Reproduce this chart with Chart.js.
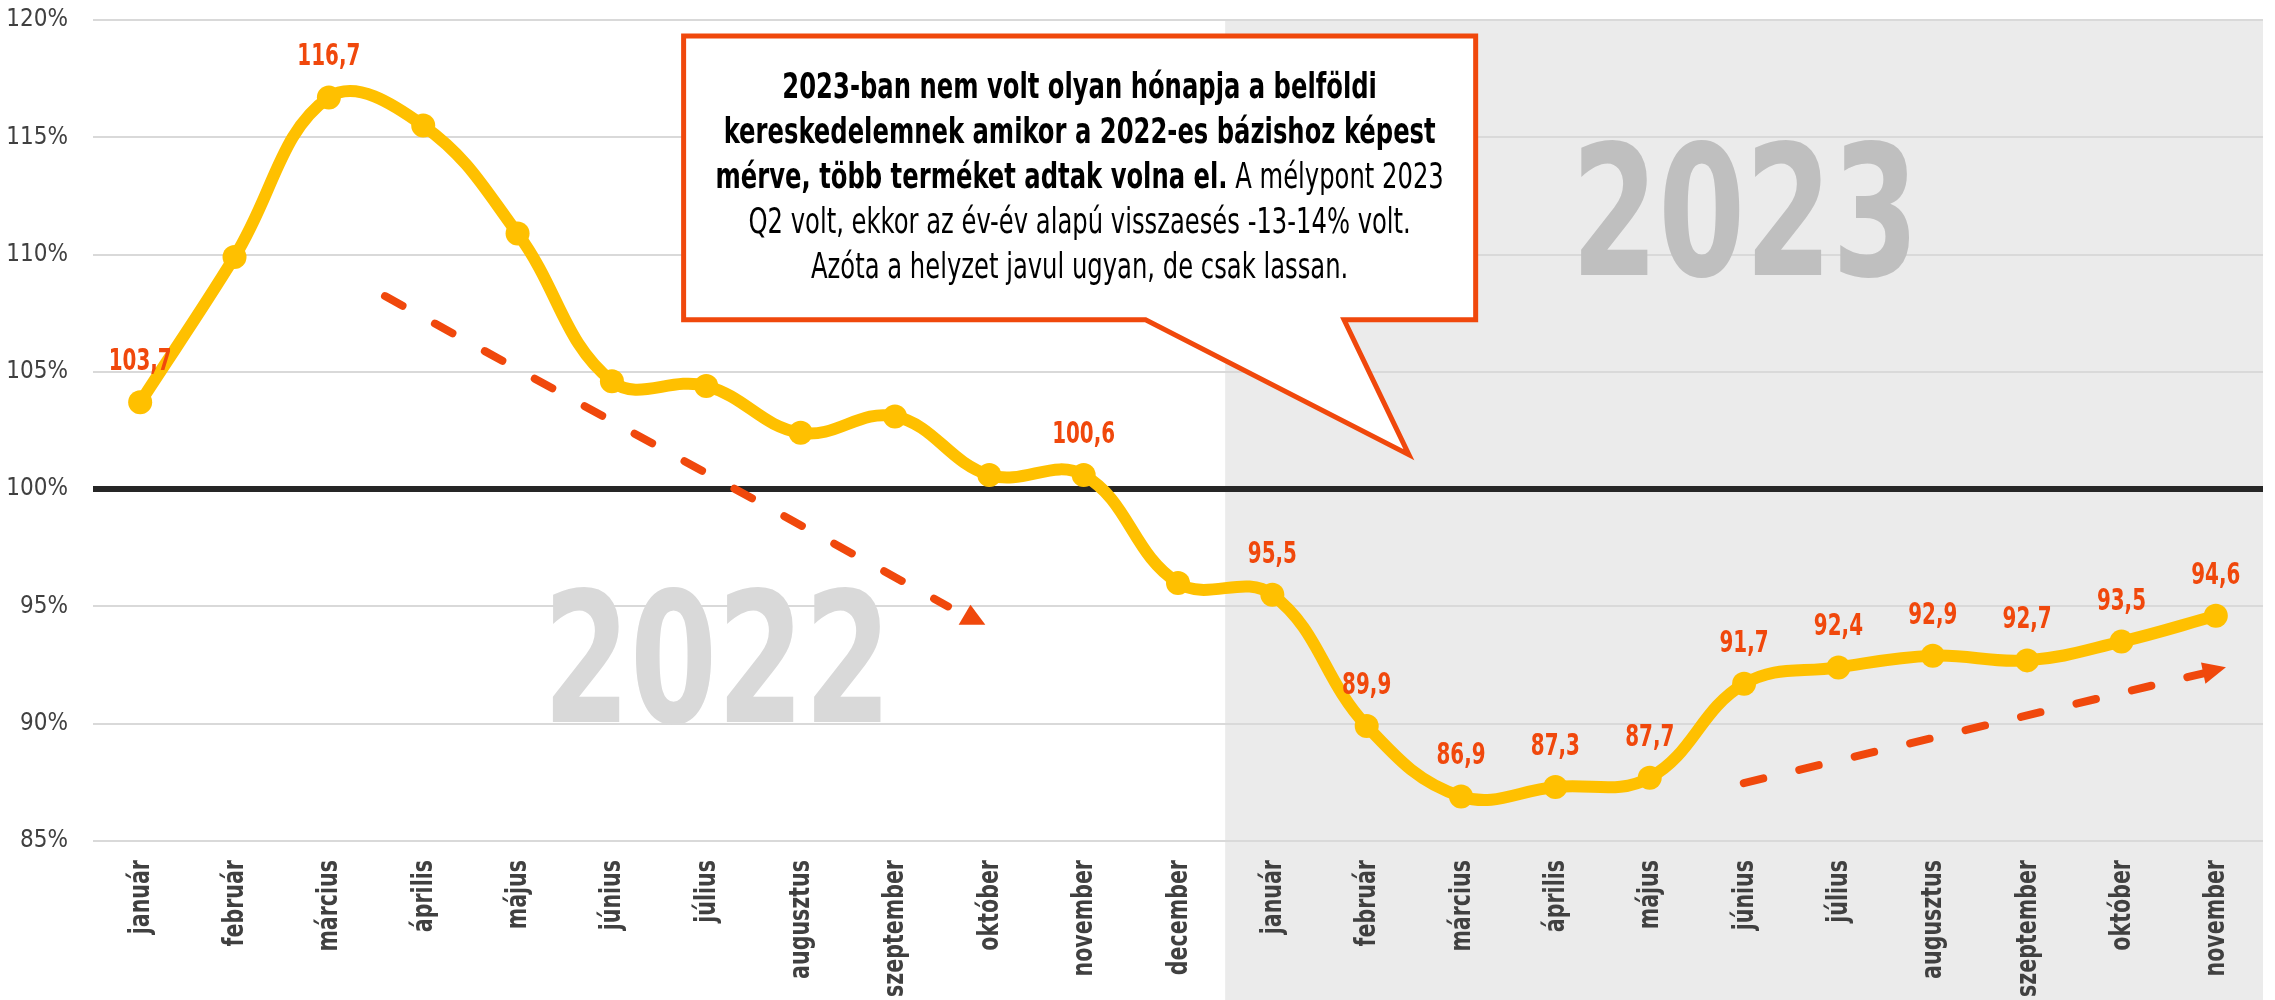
<!DOCTYPE html>
<html lang="hu">
<head>
<meta charset="utf-8">
<title>Belföldi kereskedelem 2022-2023</title>
<script src="https://cdn.jsdelivr.net/npm/chart.js@4"></script>
<style>
  html, body { margin: 0; background: #fff; }
  canvas { display: block; }
</style>
</head>
<body>
<canvas id="salesChart" width="2275" height="1000"></canvas>
<script>
const months2022 = ["január", "február", "március", "április", "május", "június", "július", "augusztus", "szeptember", "október", "november", "december"];
const months2023 = ["január", "február", "március", "április", "május", "június", "július", "augusztus", "szeptember", "október", "november"];

const values2022 = [103.7, 109.9, 116.7, 115.5, 110.9, 104.6, 104.4, 102.4, 103.1, 100.6, 100.6, 96.0];
const values2023 = [95.5, 89.9, 86.9, 87.3, 87.7, 91.7, 92.4, 92.9, 92.7, 93.5, 94.6];

// which points get a value label
const labeledPoints = [0, 2, 10, 12, 13, 14, 15, 16, 17, 18, 19, 20, 21, 22];

const yTicks = [85, 90, 95, 100, 105, 110, 115, 120];

const calloutLines = [
  [["2023-ban nem volt olyan hónapja a belföldi", true]],
  [["kereskedelemnek amikor a 2022-es bázishoz képest", true]],
  [["mérve, több terméket adtak volna el.", true], [" A mélypont 2023", false]],
  [["Q2 volt, ekkor az év-év alapú visszaesés -13-14% volt.", false]],
  [["Azóta a helyzet javul ugyan, de csak lassan.", false]]
];

const labels = [...months2022, ...months2023];
const values = [...values2022, ...values2023];

const FONT = "'Liberation Sans Narrow', 'DejaVu Sans Condensed', 'Arial Narrow', sans-serif";
const RED = "#F0480C";
const LINE = "#FFC000";
const AXIS_TEXT = "#404040";

// annotation positions, in category index / percent units
const ANN = {
  shadeFrom: 11.5,
  year2022: { x: 6.11, y: 92.9, w: 328, h: 138, color: "#D9D9D9" },
  year2023: { x: 17.01, y: 111.97, w: 328, h: 138, color: "#BFBFBF" },
  box: { left: 5.76, right: 14.155, top: 119.32, bottom: 107.22, tailA: 10.656, tailB: 12.76, tipX: 13.447, tipY: 101.47 },
  arrowDown: { from: [2.595, 108.23], to: [8.562, 95.0], head: [[8.80, 95.07], [8.675, 94.22], [8.958, 94.22]] },
  arrowUp: { from: [16.997, 87.47], to: [21.87, 92.15], head: [[22.107, 92.41], [21.843, 92.61], [21.89, 91.70]] }
};

function fmt(v) {
  return v.toFixed(1).replace(".", ",");
}

// the original uses a condensed face; squeeze the text horizontally to match
function fillNarrow(ctx, text, x, y, sx) {
  ctx.save();
  ctx.translate(x, y);
  ctx.scale(sx, 1);
  ctx.fillText(text, 0, 0);
  ctx.restore();
}

function drawFitText(ctx, text, cx, cy, w, h, color) {
  ctx.save();
  ctx.font = `bold 200px ${FONT}`;
  const m = ctx.measureText(text);
  const tw = m.actualBoundingBoxLeft + m.actualBoundingBoxRight;
  const th = m.actualBoundingBoxAscent + m.actualBoundingBoxDescent;
  ctx.translate(cx, cy);
  ctx.scale(w / tw, h / th);
  ctx.fillStyle = color;
  ctx.textAlign = "left";
  ctx.textBaseline = "alphabetic";
  ctx.fillText(text, -tw / 2 + m.actualBoundingBoxLeft, th / 2 - m.actualBoundingBoxDescent);
  ctx.restore();
}

function drawArrow(chart, a) {
  const { ctx, scales: { x, y } } = chart;
  ctx.save();
  ctx.strokeStyle = RED;
  ctx.fillStyle = RED;
  ctx.lineWidth = 8;
  ctx.lineCap = "round";
  ctx.setLineDash([20, 37]);
  ctx.beginPath();
  ctx.moveTo(x.getPixelForValue(a.from[0]), y.getPixelForValue(a.from[1]));
  ctx.lineTo(x.getPixelForValue(a.to[0]), y.getPixelForValue(a.to[1]));
  ctx.stroke();
  ctx.setLineDash([]);
  ctx.beginPath();
  a.head.forEach((p, i) => {
    const px = x.getPixelForValue(p[0]);
    const py = y.getPixelForValue(p[1]);
    if (i === 0) ctx.moveTo(px, py); else ctx.lineTo(px, py);
  });
  ctx.closePath();
  ctx.fill();
  ctx.restore();
}

function drawCallout(chart) {
  const { ctx, scales: { x, y } } = chart;
  const b = ANN.box;
  const L = x.getPixelForValue(b.left), R = x.getPixelForValue(b.right);
  const T = y.getPixelForValue(b.top), B = y.getPixelForValue(b.bottom);

  ctx.save();
  ctx.beginPath();
  ctx.moveTo(L, T);
  ctx.lineTo(R, T);
  ctx.lineTo(R, B);
  ctx.lineTo(x.getPixelForValue(b.tailB), B);
  ctx.lineTo(x.getPixelForValue(b.tipX), y.getPixelForValue(b.tipY));
  ctx.lineTo(x.getPixelForValue(b.tailA), B);
  ctx.lineTo(L, B);
  ctx.closePath();
  ctx.fillStyle = "#fff";
  ctx.fill();
  ctx.lineWidth = 5;
  ctx.lineJoin = "miter";
  ctx.strokeStyle = RED;
  ctx.stroke();

  const size = 35;
  ctx.font = `bold ${size}px ${FONT}`;
  const sx = Math.min(1, 712 / ctx.measureText(calloutLines[1][0][0]).width);
  const cx = (L + R) / 2;
  const midY = (T + B) / 2 + 1;
  ctx.fillStyle = "#000";
  ctx.textBaseline = "middle";
  ctx.textAlign = "left";
  calloutLines.forEach((line, i) => {
    const parts = line.map(([txt, bold]) => {
      ctx.font = `${bold ? "bold " : ""}${size}px ${FONT}`;
      return { txt, bold, w: ctx.measureText(txt).width * sx };
    });
    const total = parts.reduce((s, p) => s + p.w, 0);
    let px = cx - total / 2;
    const py = midY + (i - 2) * 45;
    parts.forEach(p => {
      ctx.font = `${p.bold ? "bold " : ""}${size}px ${FONT}`;
      fillNarrow(ctx, p.txt, px, py, sx);
      px += p.w;
    });
  });
  ctx.restore();
}

function drawMonthLabels(chart) {
  const { ctx, chartArea, scales: { x } } = chart;
  ctx.save();
  ctx.font = `bold 29px ${FONT}`;
  const sx = Math.min(1, 137 / ctx.measureText("szeptember").width);
  ctx.fillStyle = AXIS_TEXT;
  ctx.textAlign = "right";
  ctx.textBaseline = "middle";
  labels.forEach((lab, i) => {
    ctx.save();
    ctx.translate(x.getPixelForValue(i) + 1, chartArea.bottom + 19);
    ctx.rotate(-Math.PI / 2);
    ctx.scale(sx, 1);
    ctx.fillText(lab, 0, 0);
    ctx.restore();
  });
  ctx.restore();
}

const decorPlugin = {
  id: "decor",
  beforeDraw(chart) {
    const { ctx, chartArea, scales: { x } } = chart;
    ctx.save();
    ctx.fillStyle = "#fff";
    ctx.fillRect(0, 0, chart.width, chart.height);
    const left = x.getPixelForValue(ANN.shadeFrom);
    ctx.fillStyle = "#EBEBEB";
    ctx.fillRect(left, chartArea.top, chartArea.right - left, chart.height - chartArea.top);
    ctx.restore();
  },
  beforeDatasetsDraw(chart) {
    const { ctx, scales: { x, y } } = chart;
    [["2022", ANN.year2022], ["2023", ANN.year2023]].forEach(([t, a]) => {
      drawFitText(ctx, t, x.getPixelForValue(a.x), y.getPixelForValue(a.y), a.w, a.h, a.color);
    });
    drawMonthLabels(chart);
  },
  afterDatasetsDraw(chart) {
    const { ctx } = chart;
    const meta = chart.getDatasetMeta(0);

    drawArrow(chart, ANN.arrowDown);
    drawArrow(chart, ANN.arrowUp);

    ctx.save();
    ctx.font = `bold 31px ${FONT}`;
    const sx = Math.min(1, 63 / ctx.measureText("116,7").width);
    ctx.fillStyle = RED;
    ctx.textAlign = "center";
    ctx.textBaseline = "alphabetic";
    labeledPoints.forEach(i => {
      const pt = meta.data[i];
      fillNarrow(ctx, fmt(values[i]), pt.x, pt.y - 32, sx);
    });
    ctx.restore();

    drawCallout(chart);
  }
};

function initChart() {
  const ctx = document.getElementById("salesChart").getContext("2d");

  new Chart(ctx, {
    type: "line",
    data: {
      labels: labels,
      datasets: [
        {
          label: "Index",
          data: values,
          borderColor: LINE,
          backgroundColor: LINE,
          borderWidth: 12,
          pointRadius: 12,
          pointBackgroundColor: LINE,
          pointBorderWidth: 0,
          tension: 0.4
        }
      ]
    },
    options: {
      responsive: false,
      animation: false,
      events: [],
      layout: {
        padding: { top: 20, right: 7, left: 0, bottom: 0 }
      },
      plugins: {
        legend: { display: false },
        tooltip: { enabled: false }
      },
      scales: {
        x: {
          offset: true,
          grid: { display: false },
          border: { display: false },
          ticks: { display: false },
          afterFit(scale) { scale.height = 159; }
        },
        y: {
          min: yTicks[0],
          max: yTicks[yTicks.length - 1],
          afterBuildTicks(scale) { scale.ticks = yTicks.map(v => ({ value: v })); },
          border: { display: false },
          grid: {
            drawTicks: false,
            color: c => (c.tick && c.tick.value === 100 ? "#262626" : "#D9D9D9"),
            lineWidth: c => (c.tick && c.tick.value === 100 ? 6 : 2)
          },
          ticks: {
            padding: 25,
            color: AXIS_TEXT,
            font: { family: FONT, size: 24 },
            callback: v => v + "%"
          },
          afterFit(scale) {
            scale.width = 93;
            scale.paddingTop = 0;
            scale.paddingBottom = 0;
          }
        }
      }
    },
    plugins: [decorPlugin]
  });
}

document.addEventListener("DOMContentLoaded", initChart);
</script>
</body>
</html>
